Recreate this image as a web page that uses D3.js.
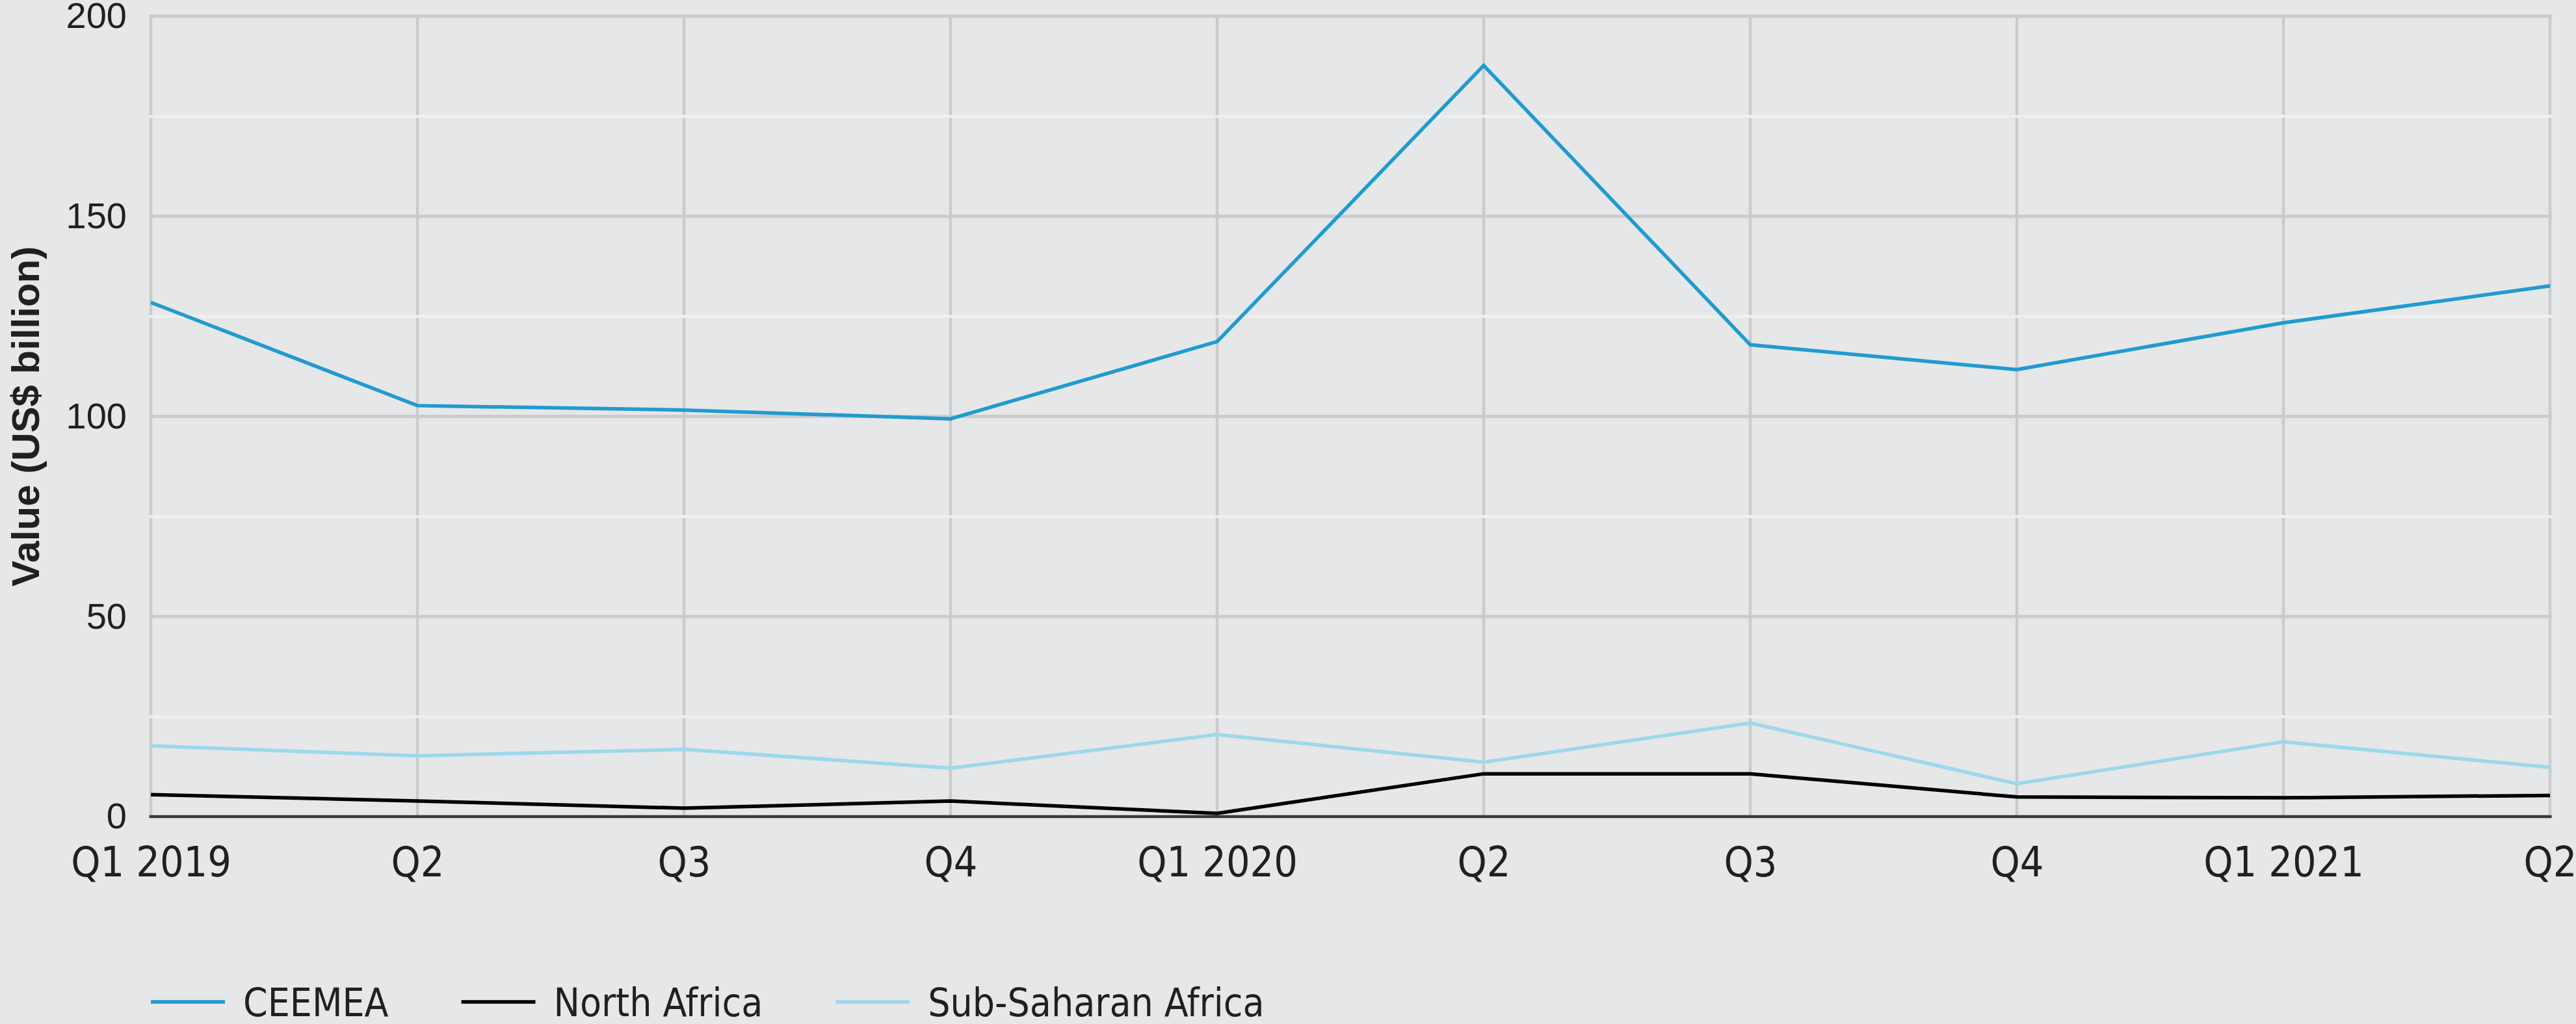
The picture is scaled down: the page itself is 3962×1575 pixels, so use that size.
<!DOCTYPE html>
<html>
<head>
<meta charset="utf-8">
<script src="https://cdn.jsdelivr.net/npm/d3@7"></script>
<style>
body { margin: 0; background: #e6e7e9; }
.narrow { font-family: "Liberation Sans Narrow", "Arial Narrow", "DejaVu Sans Condensed", sans-serif; }
</style>
</head>
<body>
<script>
var quarters = ["Q1 2019", "Q2", "Q3", "Q4", "Q1 2020", "Q2", "Q3", "Q4", "Q1 2021", "Q2"];
var ceemea = [128.5, 102.7, 101.6, 99.4, 118.7, 187.7, 117.9, 111.7, 123.4, 132.6];
var northAfrica = [5.5, 3.9, 2.1, 3.9, 0.8, 10.7, 10.7, 4.9, 4.7, 5.3];
var subSaharan = [17.7, 15.2, 16.8, 12.1, 20.5, 13.6, 23.4, 8.2, 18.7, 12.3];
var majorTicks = [0, 50, 100, 150, 200];
var minorTicks = [25, 75, 125, 175];
var seriesNames = ["CEEMEA", "North Africa", "Sub-Saharan Africa"];

var margin = {top: 25, right: 40, bottom: 319, left: 232},
    width = 3962 - margin.left - margin.right,
    height = 1575 - margin.top - margin.bottom;

var series = [
  {name: seriesNames[0], values: ceemea, color: "#1f9bd1"},
  {name: seriesNames[1], values: northAfrica, color: "#000000"},
  {name: seriesNames[2], values: subSaharan, color: "#9dd8ed"}
];

var x = d3.scalePoint().domain(d3.range(quarters.length)).range([0, width]);
var y = d3.scaleLinear().domain([0, 200]).range([height, 0]);

var svg = d3.select("body").append("svg")
  .attr("width", width + margin.left + margin.right)
  .attr("height", height + margin.top + margin.bottom)
  .append("g")
  .attr("transform", "translate(" + margin.left + "," + margin.top + ")");

// vertical grid
svg.append("g").selectAll("line")
  .data(x.domain())
  .enter().append("line")
  .attr("x1", function(d) { return x(d); })
  .attr("x2", function(d) { return x(d); })
  .attr("y1", y(200) - 2.5)
  .attr("y2", y(0))
  .attr("stroke", "#cbcbcc")
  .attr("stroke-width", 4.5);

// major horizontal grid
svg.append("g").selectAll("line")
  .data(majorTicks.slice(1))
  .enter().append("line")
  .attr("x1", -2.5)
  .attr("x2", width + 2.5)
  .attr("y1", function(d) { return y(d); })
  .attr("y2", function(d) { return y(d); })
  .attr("stroke", "#cbcbcc")
  .attr("stroke-width", 5);

// minor horizontal grid, sits over the verticals
svg.append("g").selectAll("line")
  .data(minorTicks)
  .enter().append("line")
  .attr("x1", -2.5)
  .attr("x2", width + 2.5)
  .attr("y1", function(d) { return y(d); })
  .attr("y2", function(d) { return y(d); })
  .attr("stroke", "#eeefef")
  .attr("stroke-width", 4.5);

// zero line
svg.append("line")
  .attr("x1", -2.5)
  .attr("x2", width + 2.5)
  .attr("y1", y(0))
  .attr("y2", y(0))
  .attr("stroke", "#38393a")
  .attr("stroke-width", 4.5);

var line = d3.line()
  .x(function(d, i) { return x(i); })
  .y(function(d) { return y(d); });

svg.append("g").selectAll("path")
  .data(series)
  .enter().append("path")
  .attr("fill", "none")
  .attr("stroke", function(d) { return d.color; })
  .attr("stroke-width", 5.5)
  .attr("d", function(d) { return line(d.values); });

// y axis
var yAxis = svg.append("g")
  .call(d3.axisLeft(y).tickValues(majorTicks).tickSize(0).tickPadding(37));
yAxis.select(".domain").remove();
yAxis.selectAll("text")
  .attr("fill", "#231f20")
  .style("font-family", "'Liberation Sans', Arial, sans-serif")
  .style("font-size", "56px");

// x axis
var xAxis = svg.append("g")
  .attr("transform", "translate(0," + height + ")")
  .call(d3.axisBottom(x).tickFormat(function(i) { return quarters[i]; }).tickSize(0));
xAxis.select(".domain").remove();
xAxis.selectAll("text")
  .attr("class", "narrow")
  .attr("fill", "#231f20")
  .attr("y", 92)
  .attr("dy", null)
  .style("font-size", "64px");

// y title
svg.append("text")
  .attr("transform", "translate(" + (-172) + "," + (height / 2) + ") rotate(-90)")
  .attr("text-anchor", "middle")
  .attr("fill", "#231f20")
  .style("font-family", "'Liberation Sans', Arial, sans-serif")
  .style("font-weight", "bold")
  .style("font-size", "60px")
  .text("Value (US$ billion)");

// legend
var legend = svg.append("g")
  .attr("transform", "translate(0," + (height + 285) + ")");
var lx = 0;
series.forEach(function(s) {
  var item = legend.append("g").attr("transform", "translate(" + lx + ",0)");
  item.append("line")
    .attr("x1", 0).attr("x2", 114)
    .attr("stroke", s.color)
    .attr("stroke-width", 5.5);
  var t = item.append("text")
    .attr("class", "narrow")
    .attr("x", 142)
    .attr("y", 22)
    .attr("fill", "#231f20")
    .style("font-size", "60px")
    .text(s.name);
  lx += 142 + t.node().getComputedTextLength() + 112;
});
</script>
</body>
</html>
